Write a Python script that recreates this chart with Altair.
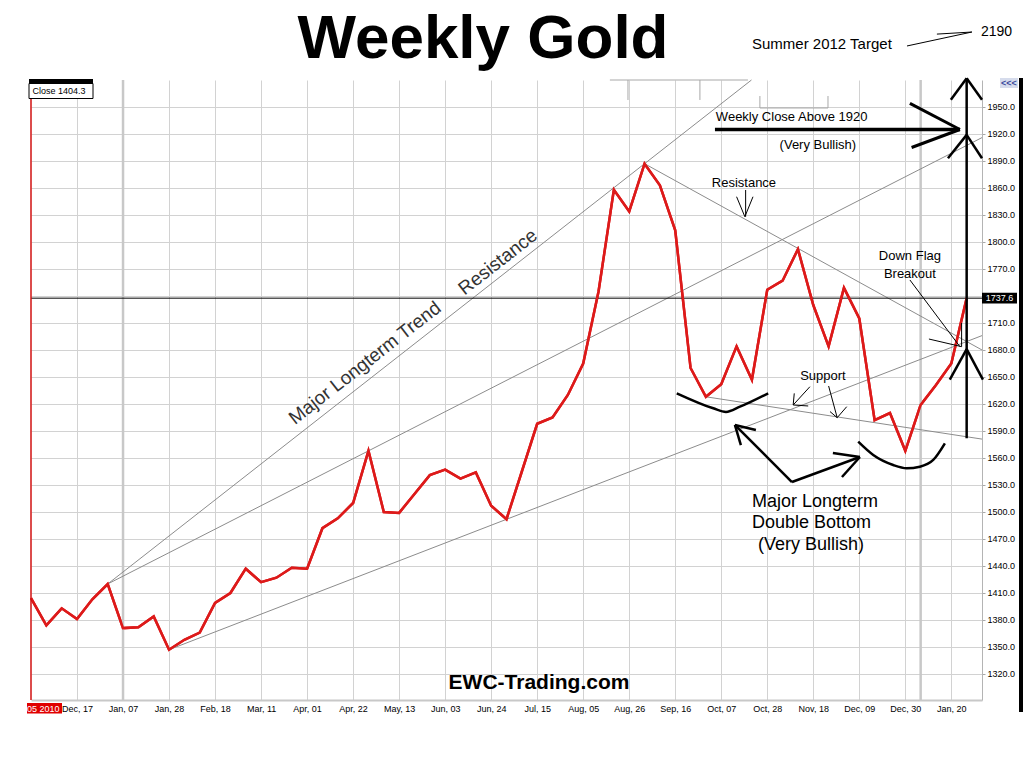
import altair as alt
import pandas as pd

# Weekly gold closes, Friday 26 Nov 2010 through Friday 27 Jan 2012 (week index 0..61)
close = [1404.3, 1374, 1393, 1381, 1403, 1420, 1371, 1372, 1384, 1347,
         1358, 1366, 1399, 1410, 1437, 1422, 1427, 1438, 1437, 1482,
         1493, 1510, 1568, 1500, 1499, 1520, 1541, 1547, 1537, 1544,
         1507, 1492, 1545, 1598, 1605, 1630, 1665, 1745, 1858, 1834,
         1887, 1863, 1813, 1660, 1628, 1642, 1684, 1647, 1747, 1757,
         1792, 1730, 1684, 1749, 1715, 1602, 1610, 1568, 1619, 1641,
         1665, 1737.6]
last_close = close[-1]

# x-axis: a label every third week
week_labels = ["Dec, 17", "Jan, 07", "Jan, 28", "Feb, 18", "Mar, 11", "Apr, 01",
               "Apr, 22", "May, 13", "Jun, 03", "Jun, 24", "Jul, 15", "Aug, 05",
               "Aug, 26", "Sep, 16", "Oct, 07", "Oct, 28", "Nov, 18", "Dec, 09",
               "Dec, 30", "Jan, 20"]
label_weeks = list(range(3, 61, 3))
year_start_weeks = [6, 58]
price_ticks = list(range(1320, 1951, 30))

# trend lines (start week, start price, end week, end price)
trend_w0 = [5, 5, 9, 40, 44]
trend_p0 = [1420, 1420, 1347, 1887, 1628]
trend_w1 = [46.97, 62, 62, 62, 62]
trend_p1 = [1980, 1916, 1696, 1680, 1581]

# faint leftover marks near the top edge
faint_segments = [(37.74, 1980, 46.74, 1980), (38.92, 1980, 38.92, 1957.8),
                  (43.61, 1980, 43.61, 1957.8), (47.52, 1948.9, 51.96, 1948.9),
                  (47.52, 1962.2, 47.52, 1948.9), (51.96, 1962.2, 51.96, 1948.9)]

# thin pointer arrows
resistance_arrow = [(46.59, 1857.8, 46.59, 1828.1), (46.0, 1850.3, 46.54, 1828.1),
                    (47.07, 1850.3, 46.54, 1828.1)]
flag_arrow = [(57.30, 1757.8, 60.56, 1683.7), (58.54, 1692.2, 60.67, 1683.7),
              (60.67, 1710, 60.67, 1683.7)]
support_arrows = [(50.78, 1639.2, 49.69, 1618.9), (49.69, 1618.9, 50.67, 1617.8),
                  (49.69, 1618.9, 49.76, 1631.8), (52.0, 1640, 52.56, 1604.8),
                  (52.56, 1604.8, 52.09, 1611.6), (52.56, 1604.8, 53.18, 1617)]
target_arrow = [(57.11, 2017.8, 61.34, 2033.3), (59.06, 2031.0, 61.34, 2033.3)]

# heavy arrows
breakout_arrow = [(44.59, 1925, 60.56, 1925)]
breakout_heads = [(57.3, 1954, 60.56, 1925), (57.41, 1905, 60.56, 1925)]
target_riser = [(61, 1582, 61, 1982),
                (59.97, 1958, 61, 1982), (62.0, 1958, 61, 1982),
                (59.78, 1893, 61, 1919), (62.0, 1893, 61, 1919),
                (59.9, 1647, 61, 1681), (62.06, 1647, 61, 1681)]
bottom_arrows = [(49.61, 1533.3, 45.89, 1596.7), (45.89, 1596.7, 47.26, 1591.1),
                 (45.89, 1596.7, 46.28, 1574.4), (49.61, 1533.3, 54.04, 1561.1),
                 (52.28, 1565.6, 54.04, 1561.1), (52.87, 1538.9, 54.04, 1561.1)]

# the two bowls of the double bottom
cup_left_w = [42.10, 44.48, 45.31, 46.22, 48.06]
cup_left_p = [1631.9, 1615.2, 1611.1, 1617.0, 1631.9]
cup_right_w = [53.93, 54.91, 56.21, 57.09, 57.95, 58.82, 59.58]
cup_right_p = [1578.1, 1563.3, 1552.2, 1548.6, 1550.3, 1557.8, 1576.3]

FONT = "Liberation Sans"
W, H = 951, 620

x_scale = alt.Scale(domain=[0, 62], nice=False, zero=False)
y_scale = alt.Scale(domain=[1291.1, 1980], nice=False, zero=False)
label_expr = "[" + ",".join(f"'{s}'" for s in week_labels) + "][round(datum.value / 3) - 1]"

x_axis = alt.Axis(values=label_weeks, labelExpr=label_expr, grid=True, ticks=False,
                  domainColor="#c8c8c8", domainWidth=2, labelFont=FONT, labelFontSize=9,
                  labelColor="#000000", labelPadding=4, labelFlush=False, title=None,
                  gridColor="#d2d2d2")
y_axis = alt.Axis(orient="right", values=price_ticks, format=".1f", grid=True,
                  tickSize=3, tickColor="#a8a8a8", domainColor="#b4b4b4",
                  labelFont=FONT, labelFontSize=9, labelColor="#000000",
                  labelPadding=2, labelFlush=False, title=None, gridColor="#d2d2d2")

X = alt.X("w:Q", scale=x_scale, axis=x_axis)
Y = alt.Y("p:Q", scale=y_scale, axis=y_axis)


def seg_df(segs):
    return pd.DataFrame(segs, columns=["w", "p", "w2", "p2"])


def seg_layer(segs, color, width):
    return alt.Chart(seg_df(segs)).mark_rule(color=color, strokeWidth=width).encode(
        x=X, y=Y, x2="w2:Q", y2="p2:Q")


def label(w, p, text, size=13, align="center", angle=0, color="#000000", weight="normal"):
    kw = dict(font=FONT, fontSize=size, align=align, baseline="middle", color=color,
              fontWeight=weight)
    if angle:
        kw["angle"] = angle
    return alt.Chart(pd.DataFrame({"w": [w], "p": [p], "t": [text]})).mark_text(**kw).encode(
        x=X, y=Y, text="t:N")


def pix_text(px, py, text, size, align="left", weight="normal", color="#000000",
             baseline="middle"):
    return alt.Chart(pd.DataFrame({"t": [text]})).mark_text(
        font=FONT, fontSize=size, align=align, baseline=baseline, fontWeight=weight,
        color=color).encode(x=alt.value(px), y=alt.value(py), text="t:N")


def pix_rect(x0, x1, y0, y1, fill, stroke=None):
    kw = dict(color=fill)
    if stroke:
        kw.update(stroke=stroke, strokeWidth=1)
    return alt.Chart(pd.DataFrame({"a": [0]})).mark_rect(**kw).encode(
        x=alt.value(x0), x2=alt.value(x1), y=alt.value(y0), y2=alt.value(y1))


series = pd.DataFrame({"w": list(range(len(close))), "p": close})

# base layer carries the axes and gridlines
base = alt.Chart(series).mark_line(color="#dd1a1a", strokeWidth=2.5,
                                   strokeJoin="miter").encode(x=X, y=Y)

year_lines = alt.Chart(pd.DataFrame({"w": year_start_weeks})).mark_rule(
    color="#c8c8c8", strokeWidth=2.5).encode(x=X)

trend = alt.Chart(pd.DataFrame({"w": trend_w0, "p": trend_p0, "w2": trend_w1,
                                "p2": trend_p1})).mark_rule(
    color="#8c8c8c", strokeWidth=1).encode(x=X, y=Y, x2="w2:Q", y2="p2:Q")

faint = seg_layer(faint_segments, "#a8a8a8", 1)

close_line = alt.Chart(pd.DataFrame({"p": [last_close]})).mark_rule(
    color="#000000", strokeWidth=1).encode(y=Y, x=alt.value(0), x2=alt.value(W))

cursor = alt.Chart(pd.DataFrame({"w": [0], "p": [1291.1], "p2": [1960]})).mark_rule(
    color="#d01010", strokeWidth=1.5).encode(x=X, y=Y, y2="p2:Q")

thin = alt.layer(seg_layer(resistance_arrow, "#000000", 1),
                 seg_layer(flag_arrow, "#000000", 1),
                 seg_layer(support_arrows, "#000000", 1),
                 seg_layer(target_arrow, "#000000", 1))

heavy = alt.layer(seg_layer(breakout_arrow, "#000000", 3.5),
                  seg_layer(breakout_heads, "#000000", 3),
                  seg_layer(target_riser, "#000000", 2.5),
                  seg_layer(bottom_arrows, "#000000", 2.5))

cups = alt.Chart(pd.concat([
    pd.DataFrame({"w": cup_left_w, "p": cup_left_p, "c": "left"}),
    pd.DataFrame({"w": cup_right_w, "p": cup_right_p, "c": "right"})])).mark_line(
    color="#000000", strokeWidth=2.5, interpolate="monotone").encode(
    x=X, y=Y, detail="c:N", order="w:Q")

texts = alt.layer(
    label(44.65, 1938.9, "Weekly Close Above 1920", align="left"),
    label(51.3, 1907.8, "(Very Bullish)"),
    label(46.48, 1865.6, "Resistance"),
    label(57.3, 1784.4, "Down Flag"),
    label(57.3, 1764.4, "Breakout"),
    label(51.63, 1651, "Support"),
    label(47.0, 1511.1, "Major Longterm", size=18, align="left"),
    label(47.0, 1487.8, "Double Bottom", size=18, align="left"),
    label(47.39, 1463.3, "(Very Bullish)", size=18, align="left"),
    label(21.77, 1665.6, "Major Longterm Trend", size=19, angle=322, color="#333333"),
    label(30.44, 1777.8, "Resistance", size=19, angle=322, color="#333333"),
)

# price tag for the latest close on the right scale
tag_box = alt.Chart(pd.DataFrame({"p": [last_close + 6], "p2": [last_close - 6]})).mark_rect(
    color="#000000").encode(x=alt.value(W), x2=alt.value(W + 35), y=Y, y2="p2:Q")
tag_text = alt.Chart(pd.DataFrame({"p": [last_close], "t": [f"{last_close}"]})).mark_text(
    font=FONT, fontSize=9, color="#ffffff", align="center", baseline="middle").encode(
    x=alt.value(W + 17.5), y=Y, text="t:N")

frame = alt.layer(
    pix_text(452, -22, "Weekly Gold", 62, align="center", weight="bold",
             baseline="alphabetic"),
    pix_text(721, -36, "Summer 2012 Target", 15),
    pix_text(950, -48, "2190", 14),
    pix_text(508, 603, "EWC-Trading.com", 21, align="center", weight="bold"),
    pix_rect(-2, 62, -1, 3.5, "#000000"),
    pix_rect(-2, 62, 3.5, 18.5, "#ffffff", stroke="#000000"),
    pix_text(1.5, 11, f"Close  {close[0]}", 9),
    pix_rect(-4, 31, 623, 633.5, "#e00000"),
    pix_text(-4, 628.5, "05 2010", 9, color="#ffffff"),
    pix_rect(969, 987, -2, 8, "#d6dcec"),
    pix_text(978, 3, "<<<", 9, align="center", weight="bold", color="#3c4a9c"),
    pix_rect(988, 992, -2, 632, "#000000"),
)

chart = alt.layer(base, year_lines, trend, faint, close_line, base, cursor,
                  thin, heavy, cups, texts, tag_box, tag_text, frame).properties(
    width=W, height=H,
    autosize=alt.AutoSizeParams(type="none"),
    padding={"left": 31, "top": 80, "right": 42, "bottom": 68},
    background="#ffffff",
).configure_view(stroke=None)

chart.save("out.html", embed_options={"renderer": "svg", "actions": False})
